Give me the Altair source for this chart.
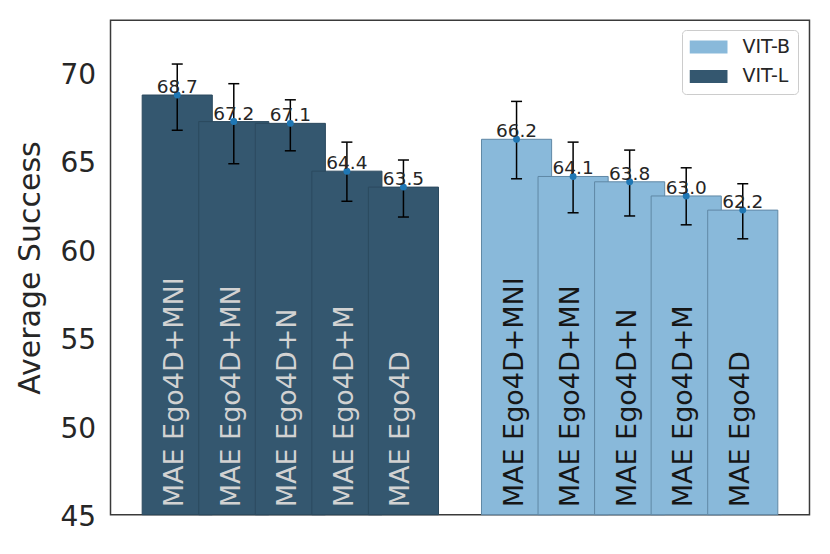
import altair as alt
import pandas as pd

# ---- data ----
groups = ["VIT-L"] * 5 + ["VIT-B"] * 5
models = ["MAE Ego4D+MNI", "MAE Ego4D+MN", "MAE Ego4D+N", "MAE Ego4D+M", "MAE Ego4D"] * 2
success = [68.7, 67.2, 67.1, 64.4, 63.5, 66.2, 64.1, 63.8, 63.0, 62.2]
err_low = [66.71, 64.82, 65.55, 62.70, 61.81, 63.97, 62.05, 61.87, 61.37, 60.58]
err_high = [70.45, 69.34, 68.43, 66.04, 65.03, 68.34, 66.04, 65.59, 64.59, 63.69]
y_ticks = [45, 50, 55, 60, 65, 70]
legend_order = ["VIT-B", "VIT-L"]
y_floor = y_ticks[0]

df = pd.DataFrame({
    "group": groups,
    "model": models,
    "success": success,
    "err_low": err_low,
    "err_high": err_high,
})

FONT = "DejaVu Sans"
DARK = "#34576f"
LIGHT = "#89b9da"
TXT = "#262626"

base = alt.Chart(df).transform_window(
    idx="row_number()"
).transform_calculate(
    pos="datum.idx - 1 + (datum.group === 'VIT-B' ? 1 : 0)"
).transform_calculate(
    left="datum.pos - 0.62",
    right="datum.pos + 0.62",
)

xs = alt.Scale(domain=[-1.18, 11.18], nice=False, zero=False)
ys = alt.Scale(domain=[45, 72.92], nice=False, zero=False)

yaxis = alt.Axis(
    values=y_ticks, title="Average Success", titleFontSize=30, titleFont=FONT,
    titleFontWeight="normal", titleColor=TXT, titlePadding=14,
    labelFontSize=28, labelFont=FONT, labelColor=TXT, labelPadding=15,
    labelOffset=3, labelFlush=False, labelOverlap=False,
    ticks=False, domain=False, grid=False,
)

bars = base.mark_bar(strokeWidth=1).encode(
    x=alt.X("left:Q", scale=xs, axis=None),
    x2="right:Q",
    y=alt.Y("success:Q", scale=ys, axis=yaxis),
    y2=alt.datum(y_floor),
    color=alt.Color(
        "group:N",
        scale=alt.Scale(domain=legend_order, range=[LIGHT, DARK]),
        legend=alt.Legend(
            title=None, orient="none", legendX=571.5, legendY=9.7,
            symbolType="M-1,-0.342L1,-0.342L1,0.342L-1,0.342Z",
            symbolSize=1444, symbolStrokeWidth=0, symbolOpacity=1,
            clipHeight=19, rowPadding=9.5,
            labelFontSize=19, labelFont=FONT, labelColor=TXT, labelOffset=15,
            padding=7.5, strokeColor="#cccccc", cornerRadius=4, fillColor="white",
        ),
    ),
    stroke=alt.condition("datum.group === 'VIT-L'", alt.value("#2b495e"), alt.value("#5f88a5")),
)

rules = base.mark_rule(color="black", strokeWidth=1.5).encode(
    x=alt.X("pos:Q", scale=xs, axis=None),
    y=alt.Y("err_low:Q", scale=ys),
    y2="err_high:Q",
)

cap_lo = base.mark_tick(orient="horizontal", size=11, thickness=1.5, color="black", opacity=1).encode(
    x=alt.X("pos:Q", scale=xs, axis=None),
    y=alt.Y("err_low:Q", scale=ys),
)
cap_hi = base.mark_tick(orient="horizontal", size=11, thickness=1.5, color="black", opacity=1).encode(
    x=alt.X("pos:Q", scale=xs, axis=None),
    y=alt.Y("err_high:Q", scale=ys),
)

points = base.mark_circle(size=48, color="#1f77b4", opacity=1).encode(
    x=alt.X("pos:Q", scale=xs, axis=None),
    y=alt.Y("success:Q", scale=ys),
)

values = base.mark_text(fontSize=18.5, font=FONT, color=TXT, baseline="alphabetic", dy=-2).encode(
    x=alt.X("pos:Q", scale=xs, axis=None),
    y=alt.Y("success:Q", scale=ys),
    text=alt.Text("success:Q", format=".1f"),
)

names = base.mark_text(angle=270, align="left", baseline="middle", fontSize=27, font=FONT, dy=-2).encode(
    x=alt.X("pos:Q", scale=xs, axis=None),
    y=alt.value(487),
    text="model:N",
    color=alt.condition("datum.group === 'VIT-L'", alt.value("#d2d2d2"), alt.value("#161616")),
)

chart = alt.layer(bars, rules, cap_lo, cap_hi, points, values, names).properties(
    width=699, height=494.4,
    autosize=alt.AutoSizeParams(type="none"),
    padding={"left": 102.5, "top": 12.3, "right": 12, "bottom": 30},
    background="white",
).configure_view(
    stroke="#3a3a3a", strokeWidth=1.5
)

chart.save("out.html", embed_options={"renderer": "svg", "actions": False})
